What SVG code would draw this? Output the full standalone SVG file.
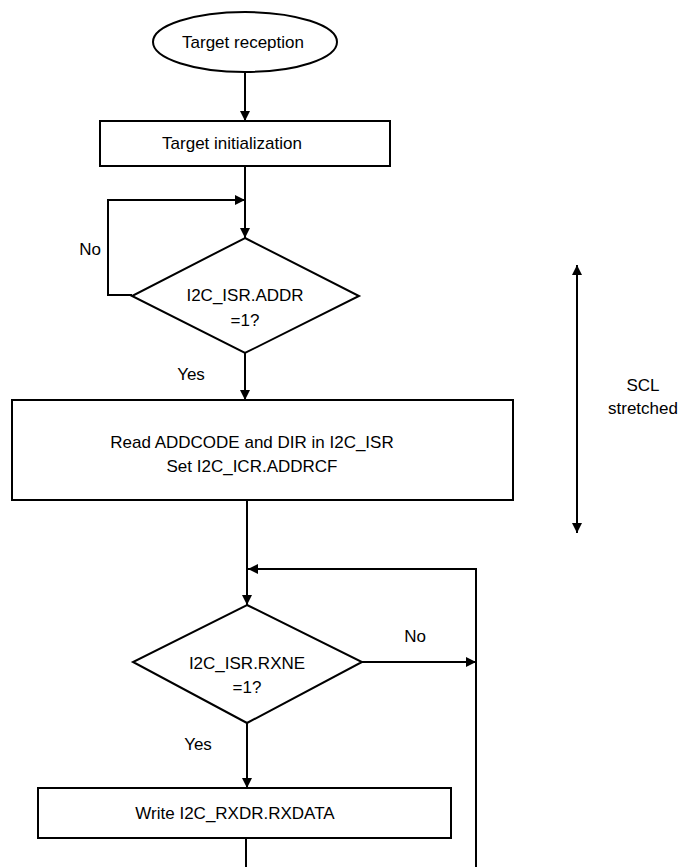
<svg xmlns="http://www.w3.org/2000/svg" width="693" height="867" viewBox="0 0 693 867">
<style>
.s{fill:#fff;stroke:#000;stroke-width:2}
.l{fill:none;stroke:#000;stroke-width:2}
text{font-family:"Liberation Sans",Arial,sans-serif;font-size:17px;fill:#000;text-anchor:middle}
</style>
<defs><marker id="a" viewBox="0 0 10 10" refX="10" refY="5" markerWidth="10" markerHeight="10" markerUnits="userSpaceOnUse" orient="auto-start-reverse"><path d="M0,0L10,5L0,10z"/></marker></defs>
<rect width="693" height="867" fill="#fff"/>
<g id="connectors">
<path class="l" d="M245,72V121" marker-end="url(#a)"/>
<path class="l" d="M245,166V238" marker-end="url(#a)"/>
<path class="l" d="M132,295H108V200H245" marker-end="url(#a)"/>
<path class="l" d="M245,353V400" marker-end="url(#a)"/>
<path class="l" d="M247,500V605" marker-end="url(#a)"/>
<path class="l" d="M476,867V569H248" marker-end="url(#a)"/>
<path class="l" d="M362,662H476" marker-end="url(#a)"/>
<path class="l" d="M247,723V788" marker-end="url(#a)"/>
<path class="l" d="M246,838V867"/>
<path class="l" d="M577,265V533" marker-start="url(#a)" marker-end="url(#a)"/>
</g>
<g id="start"><ellipse class="s" cx="245" cy="42" rx="92" ry="30"/><text x="243" y="48">Target reception</text></g>
<g id="init"><rect class="s" x="100" y="121" width="290" height="45"/><text x="232" y="149">Target initialization</text></g>
<g id="addr"><path class="s" d="M245,238L359,296L245,353L132,296z"/><text x="245" y="301">I2C_ISR.ADDR</text><text x="245" y="326">=1?</text></g>
<text x="90" y="255">No</text>
<text x="191" y="380">Yes</text>
<g id="read"><rect class="s" x="12" y="400" width="501" height="100"/><text x="252" y="448">Read ADDCODE and DIR in I2C_ISR</text><text x="252" y="472">Set I2C_ICR.ADDRCF</text></g>
<g id="rxne"><path class="s" d="M247,605L362,662L247,723L133,662z"/><text x="247" y="669">I2C_ISR.RXNE</text><text x="247" y="693">=1?</text></g>
<text x="415" y="642">No</text>
<text x="198" y="750">Yes</text>
<g id="write"><rect class="s" x="38" y="788" width="413" height="50"/><text x="235" y="819">Write I2C_RXDR.RXDATA</text></g>
<g id="scl"><text x="643" y="391">SCL</text><text x="643" y="414">stretched</text></g>
</svg>
